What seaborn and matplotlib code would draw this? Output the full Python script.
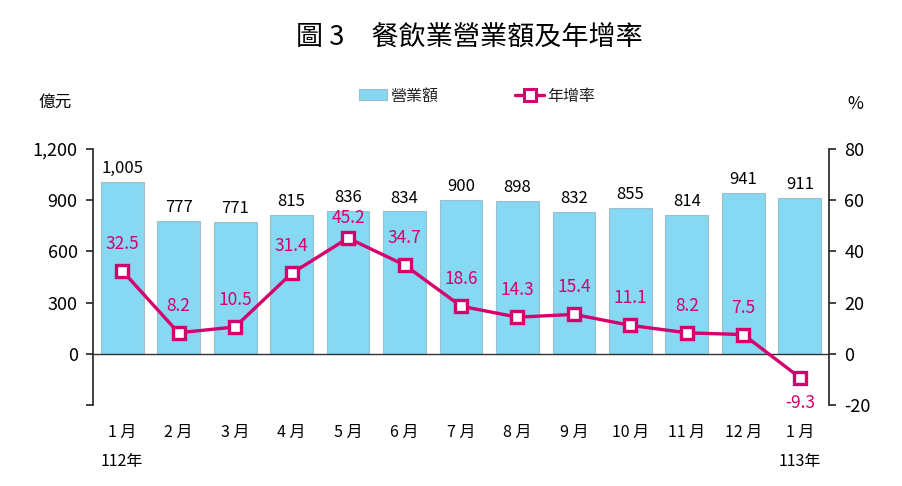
import matplotlib
matplotlib.use("Agg")
import matplotlib.pyplot as plt
import seaborn as sns
import pandas as pd
from matplotlib.patches import Patch
from matplotlib.lines import Line2D

# ---- data ----
months = ["1 月", "2 月", "3 月", "4 月", "5 月", "6 月", "7 月", "8 月",
          "9 月", "10 月", "11 月", "12 月", "1 月"]
years = ["112年", "", "", "", "", "", "", "", "", "", "", "", "113年"]
revenue = [1005, 777, 771, 815, 836, 834, 900, 898, 832, 855, 814, 941, 911]
growth = [32.5, 8.2, 10.5, 31.4, 45.2, 34.7, 18.6, 14.3, 15.4, 11.1, 8.2, 7.5, -9.3]
left_ticks = [-300, 0, 300, 600, 900, 1200]
left_tick_labels = ["", "0", "300", "600", "900", "1,200"]
right_ticks = [-20, 0, 20, 40, 60, 80]
right_tick_labels = ["-20", "0", "20", "40", "60", "80"]

BAR = "#86D8F3"
BAR_EDGE = "#9DBFCC"
MAG = "#D4006C"
AX_COL = "#222222"

sns.set_theme(style="white")
plt.rcParams["font.family"] = ["Noto Sans CJK TC", "DejaVu Sans"]
plt.rcParams["axes.unicode_minus"] = False

fig = plt.figure(figsize=(9.03, 4.86), dpi=100)
ax = fig.add_axes([93 / 903, 1 - 405 / 486, (829 - 93) / 903, (405 - 149) / 486])

df = pd.DataFrame({"idx": list(range(len(revenue))), "revenue": revenue, "growth": growth})

sns.barplot(data=df, x="idx", y="revenue", color=BAR, saturation=1,
            edgecolor=BAR_EDGE, linewidth=0.8, width=0.76, ax=ax, zorder=2)

ax2 = ax.twinx()
sns.lineplot(data=df, x="idx", y="growth", ax=ax2, color=MAG, linewidth=2.4,
             marker="s", markersize=9, markerfacecolor="white",
             markeredgecolor=MAG, markeredgewidth=2.4, zorder=5)

for a in (ax, ax2):
    a.set_xlim(-0.515, len(revenue) - 1 + 0.515)
    a.set_xlabel("")
    a.set_ylabel("")
    a.spines["top"].set_visible(False)
    a.spines["bottom"].set_visible(False)
    a.set_facecolor("none")

ax.set_ylim(-300, 1200)
ax2.set_ylim(-20, 80)
ax.set_yticks(left_ticks)
ax.set_yticklabels(left_tick_labels)
ax2.set_yticks(right_ticks)
ax2.set_yticklabels(right_tick_labels)

ax.spines["left"].set_color(AX_COL)
ax.spines["left"].set_linewidth(1.2)
ax.spines["right"].set_visible(False)
ax2.spines["left"].set_visible(False)
ax2.spines["right"].set_color(AX_COL)
ax2.spines["right"].set_linewidth(1.2)

ax.tick_params(axis="y", direction="out", length=5, width=1.2, color=AX_COL,
               labelsize=13, labelcolor="black", pad=6, left=True)
ax2.tick_params(axis="y", direction="out", length=5, width=1.2, color=AX_COL,
                labelsize=13, labelcolor="black", pad=6, right=True)

ax.axhline(0, color="#333333", linewidth=1.0, zorder=3)

ax.set_xticks(range(len(months)))
ax.set_xticklabels([])
ax.tick_params(axis="x", length=0)
ax2.tick_params(axis="x", length=0)

for i, (m, y) in enumerate(zip(months, years)):
    ax.annotate(m, (i, 0), xycoords=("data", "axes fraction"), xytext=(0, -19.5),
                textcoords="offset points", ha="center", va="center",
                fontsize=11.5, fontweight="medium", color="black")
    if y:
        ax.annotate(y, (i, 0), xycoords=("data", "axes fraction"), xytext=(0, -41),
                    textcoords="offset points", ha="center", va="center",
                    fontsize=11.5, color="black")

# bar value labels
for i, v in enumerate(revenue):
    ax.annotate(f"{v:,}", (i, v), xytext=(0, 3.5), textcoords="offset points",
                ha="center", va="bottom", fontsize=12, color="black", zorder=6)

# growth labels
gmax = max(growth)
for i, g in enumerate(growth):
    if g < 0:
        off, va = -12, "top"
    elif g == gmax:
        off, va = 8, "bottom"
    else:
        off, va = 13, "bottom"
    ax2.annotate(f"{g:.1f}", (i, g), xytext=(0, off), textcoords="offset points",
                 ha="center", va=va, fontsize=12.5, color=MAG, zorder=7)

# title and unit labels
fig.text(469 / 903, 1 - 38 / 486, "圖 3　餐飲業營業額及年增率", ha="center", va="center",
         fontsize=19.5, color="black")
fig.text(55 / 903, 1 - 102 / 486, "億元", ha="center", va="center", fontsize=12,
         fontweight="medium", color="black")
fig.text(855 / 903, 1 - 104 / 486, "%", ha="center", va="center", fontsize=12.5,
         color="black")

handles = [Patch(facecolor=BAR, edgecolor=BAR_EDGE, linewidth=0.8),
           Line2D([], [], color=MAG, linewidth=2.4, marker="s", markersize=8,
                  markerfacecolor="white", markeredgecolor=MAG, markeredgewidth=2.2)]
fig.legend(handles, ["營業額", "年增率"], loc="center",
           bbox_to_anchor=(477 / 903, 1 - 96 / 486), ncol=2, frameon=False,
           fontsize=11.5, handlelength=1.8, handletextpad=0.2, columnspacing=4.8,
           labelcolor="#222222")

fig.savefig("out.png", dpi=100)
